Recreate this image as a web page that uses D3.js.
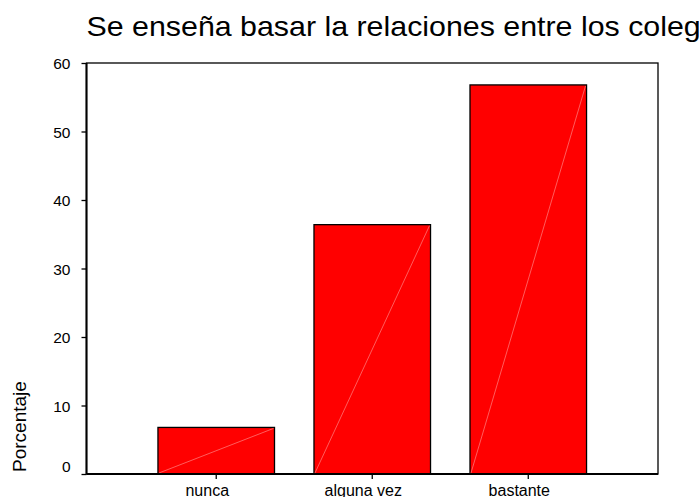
<!DOCTYPE html>
<html><head><meta charset="utf-8">
<script src="https://cdn.jsdelivr.net/npm/d3@7"></script>
<style>body{margin:0;background:#fff;overflow:hidden}svg{display:block}</style>
</head><body>
<script>
const categories = ["nunca", "alguna vez", "bastante"];
const values = [6.8, 36.4, 56.8];
const yTicks = [0, 10, 20, 30, 40, 50, 60];
const title = "Se enseña basar la relaciones entre los colegas";
const yLabel = "Porcentaje";

const W = 699, H = 497;
const m = {left: 86.5, top: 63, right: 658, bottom: 474};
const svg = d3.select("body").append("svg").attr("width", W).attr("height", H);
const font = "Liberation Sans, Arial, sans-serif";

const x = d3.scaleBand().domain(categories).range([m.left, m.right]).paddingInner(0.253).paddingOuter(0.458);
const y = d3.scaleLinear().domain([0, 60]).range([m.bottom, m.top]);

// bars
const g = svg.append("g");
categories.forEach((c, i) => {
  const x0 = x(c), bw = x.bandwidth(), yt = y(values[i]);
  g.append("rect").attr("x", x0).attr("y", yt).attr("width", bw).attr("height", y(0) - yt)
    .attr("fill", "#ff0000").attr("stroke", "#000").attr("stroke-width", 1.3);
  g.append("line").attr("x1", x0 + 1).attr("y1", y(0) - 1).attr("x2", x0 + bw - 1).attr("y2", yt + 1)
    .attr("stroke", "#ff9a9a").attr("stroke-width", 0.6);
});

// frame
svg.append("rect").attr("x", m.left).attr("y", m.top).attr("width", m.right - m.left).attr("height", m.bottom - m.top)
  .attr("fill", "none").attr("stroke", "#000").attr("stroke-width", 1.3);
svg.append("line").attr("x1", m.left).attr("x2", m.left).attr("y1", m.top).attr("y2", m.bottom).attr("stroke", "#000").attr("stroke-width", 2);
svg.append("line").attr("x1", m.left).attr("x2", m.right).attr("y1", m.bottom).attr("y2", m.bottom).attr("stroke", "#000").attr("stroke-width", 2);

// y axis
const ya = svg.append("g").attr("transform", `translate(${m.left},0)`)
  .call(d3.axisLeft(y).tickValues(yTicks).tickSize(5).tickPadding(11).tickFormat(d3.format("d")));
ya.select(".domain").remove();
ya.selectAll("line").attr("stroke", "#000").attr("stroke-width", 1.3);
ya.selectAll("text").attr("font-family", font).attr("font-size", 15.5).attr("fill", "#000")
  .attr("dy", d => d === 0 ? "-0.15em" : "0.38em");

// x axis
const xa = svg.append("g").attr("transform", `translate(0,${m.bottom})`)
  .call(d3.axisBottom(x).tickSize(5).tickPadding(3));
xa.select(".domain").remove();
xa.selectAll("line").attr("stroke", "#000").attr("stroke-width", 1.3);
xa.selectAll("text").attr("font-family", font).attr("font-size", 16).attr("fill", "#000")
  .attr("dy", null).attr("y", 22).attr("dx", -9);

// title
svg.append("text").attr("transform", "translate(86.5,35.5) scale(1.125,1)").attr("font-family", font).attr("font-size", 27)
  .attr("fill", "#000").text(title);

// y label
svg.append("text").attr("transform", `translate(26,${m.bottom - 2}) rotate(-90)`).attr("text-anchor", "start")
  .attr("font-family", font).attr("font-size", 19).attr("fill", "#000").text(yLabel);
</script>
</body></html>
